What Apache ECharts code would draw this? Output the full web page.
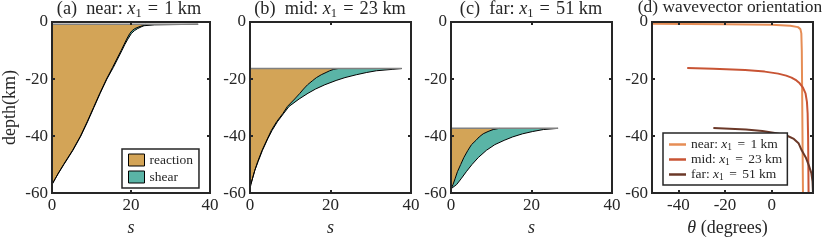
<!DOCTYPE html>
<html><head><meta charset="utf-8">
<script src="https://cdn.jsdelivr.net/npm/echarts@6/dist/echarts.min.js"></script>
<style>html,body{margin:0;padding:0;background:#fff}#c{width:830px;height:242px}</style>
</head><body><div id="c"></div>
<script>
// ---------- data ----------
const sTicks = [0, 20, 40];
const depthTicks = [0, -20, -40, -60];
const thetaTicks = [-40, -20, 0];

// panel (a) near
const depthA = [-0.8, -1.0, -1.3, -1.7, -2.3, -3, -4, -6, -8, -10, -13, -16, -20, -25, -30, -35, -40, -45, -50, -53, -55, -57];
const reactA = [23.6, 23.4, 22.9, 22.0, 21.0, 20.3, 19.7, 18.9, 18.2, 17.5, 16.4, 15.3, 13.8, 12.1, 10.5, 8.9, 7.2, 5.2, 2.9, 1.6, 0.8, 0];
const shearA = [13.4, 2.6, 0.4, 0.6, 0.7, 0.6, 0.4, 0.3, 0.2, 0.2, 0.2, 0.2, 0.1, 0.1, 0.1, 0.1, 0.1, 0.1, 0.1, 0.05, 0, 0];

// panel (b) mid
const depthB = [-16.3, -16.6, -17.1, -17.7, -18.5, -19.5, -20.5, -22, -23.5, -25, -27, -29.6, -32, -35, -38, -41, -45, -49, -52, -55, -57, -58.5];
const reactB = [22.0, 20.8, 19.8, 18.9, 17.7, 16.5, 15.6, 14.3, 13.3, 12.4, 11.1, 9.3, 8.2, 6.6, 5.3, 4.3, 3.0, 1.9, 1.2, 0.6, 0.2, 0];
const shearB = [15.7, 14.7, 11.6, 10.1, 8.7, 7.1, 5.8, 4.3, 3.0, 2.0, 1.1, 0.4, 0.2, 0.2, 0.2, 0.1, 0.1, 0.1, 0, 0, 0, 0];

// panel (c) far
const depthC = [-37.3, -37.7, -38.4, -39.2, -40.3, -41.5, -43, -45, -47.5, -50, -52.5, -55, -57, -58.5];
const reactC = [12.0, 10.5, 9.2, 8.0, 7.0, 6.2, 5.1, 4.2, 3.2, 2.4, 1.6, 1.0, 0.5, 0];
const shearC = [14.6, 12.5, 11.1, 9.8, 8.3, 7.0, 5.8, 4.6, 3.6, 2.8, 2.2, 1.5, 0.9, 0];

// panel (d) wavevector orientation
const depthNear = [-0.6, -0.8, -1.0, -1.3, -1.8, -2.5, -4, -10, -20, -30, -40, -50, -60];
const thetaNear = [-51.3, -20, 0, 8, 11.3, 12.3, 12.7, 12.9, 13.0, 13.1, 13.2, 13.3, 13.4];
const depthMid = [-16.1, -16.4, -16.8, -17.4, -18.1, -18.8, -19.5, -20.5, -21.5, -23, -25, -28, -32, -40, -50, -60];
const thetaMid = [-36.2, -25, -11.4, -3, 2.8, 6.2, 8.5, 10.6, 12.0, 13.4, 14.5, 15.1, 15.4, 15.6, 15.7, 15.8];
const depthFar = [-37.2, -37.4, -37.7, -38.2, -39, -39.8, -41, -42.5, -44.9, -47.5, -50, -53, -56, -60];
const thetaFar = [-25.0, -18, -11, -4, 2, 6.4, 9.5, 11.5, 12.8, 14.6, 15.8, 17.0, 17.5, 17.7];

// ---------- style ----------
const FONT = 'Liberation Serif';
const INK = '#262626';
const TAN = '#D3A457';
const TEAL = '#5AB4A6';
const C_NEAR = '#E68D55', C_MID = '#C85434', C_FAR = '#6B3828';
const FS_TICK = 17, FS_TITLE = 18.3, FS_NAME = 18, FS_LEG = 13.5;

const lefts = [49, 250, 451, 652];
const grid = lefts.map(l => ({left: l, top: 22, width: 161, height: 176}));

const rich = {
  i: {fontFamily: FONT, fontStyle: 'italic', fontSize: FS_TITLE, color: INK},
  s: {fontFamily: FONT, fontSize: 12.5, color: INK, padding: [8, 0, 0, 0]},
  e: {fontFamily: FONT, fontSize: FS_TITLE, color: INK, padding: [0, 1.5, 0, 1.5]},
  i2: {fontFamily: FONT, fontStyle: 'italic', fontSize: FS_LEG, color: INK, lineHeight: 15},
  s2: {fontFamily: FONT, fontSize: 9.5, color: INK, padding: [5, 0, 0, 0], lineHeight: 15},
  e2: {fontFamily: FONT, fontSize: FS_LEG, color: INK, padding: [0, 2, 0, 2], lineHeight: 15}
};

function lineAxis(pos, gi, min, max, opts, showLabel) {
  const ax = {
    type: 'value', gridIndex: gi, position: pos, min, max, z: 10,
    splitLine: {show: false},
    axisLine: {show: true, onZero: false, lineStyle: {color: INK, width: 2, cap: 'square'}},
    axisTick: {show: true, inside: true, length: 3, lineStyle: {color: INK, width: 2}},
    axisLabel: {show: showLabel, color: INK, fontFamily: FONT, fontSize: FS_TICK, margin: 4}
  };
  Object.assign(ax, opts);
  return ax;
}

const xAxis = [], yAxis = [];
for (let g = 0; g < 4; g++) {
  if (g < 3) {
    const xo = {interval: 20};
    xAxis.push(lineAxis('bottom', g, sTicks[0], sTicks[sTicks.length - 1], Object.assign({
      name: 's', nameLocation: 'middle', nameGap: 22,
      nameTextStyle: {fontFamily: FONT, fontStyle: 'italic', fontSize: FS_NAME, color: INK}
    }, xo), true));
    xAxis.push(lineAxis('top', g, sTicks[0], sTicks[sTicks.length - 1], xo, false));
  } else {
    const xo = {axisTick: {show: true, inside: true, length: 3, customValues: thetaTicks, lineStyle: {color: INK, width: 2}}};
    const lab = {show: true, color: INK, fontFamily: FONT, fontSize: FS_TICK, margin: 4, customValues: thetaTicks};
    xAxis.push(lineAxis('bottom', g, -51.3, 17.7, Object.assign({
      name: '{i|θ} (degrees)', nameLocation: 'middle', nameGap: 22,
      nameTextStyle: {fontFamily: FONT, fontSize: FS_NAME, color: INK, padding: [0, 10, 0, 0], rich: {i: {fontFamily: FONT, fontStyle: 'italic', fontSize: FS_NAME, color: INK}}},
      axisLabel: lab
    }, xo), true));
    xAxis.push(lineAxis('top', g, -51.3, 17.7, xo, false));
  }
  const yo = {interval: 20};
  const yl = Object.assign({}, yo);
  if (g === 0) Object.assign(yl, {
    name: 'depth(km)', nameLocation: 'middle', nameGap: 33, nameRotate: 90,
    nameTextStyle: {fontFamily: FONT, fontSize: FS_NAME, color: INK}
  });
  yAxis.push(lineAxis('left', g, depthTicks[depthTicks.length - 1], depthTicks[0], yl, true));
  yAxis.push(lineAxis('right', g, depthTicks[depthTicks.length - 1], depthTicks[0], yo, false));
}

function polySeries(name, color, pts, gi) {
  return {
    type: 'custom', name, xAxisIndex: 2 * gi, yAxisIndex: 2 * gi, data: [[0, 0]], z: 2, silent: true,
    itemStyle: {color},
    renderItem: (params, api) => ({
      type: 'polygon',
      shape: {points: pts.map(p => api.coord(p))},
      style: {fill: color, stroke: null}
    })
  };
}
function lineSeries(name, color, width, pts, gi, z) {
  return {
    type: 'line', name, xAxisIndex: 2 * gi, yAxisIndex: 2 * gi, data: pts, z: z || 3,
    symbol: 'none', showSymbol: false, silent: true, animation: false,
    lineStyle: {color, width}, itemStyle: {color}
  };
}

const series = [];
[[depthA, reactA, shearA], [depthB, reactB, shearB], [depthC, reactC, shearC]].forEach(([dep, re, sh], gi) => {
  const react = dep.map((d, i) => [re[i], d]);
  const total = dep.map((d, i) => [re[i] + sh[i], d]);
  const top = dep[0], bot = dep[dep.length - 1];
  const reactPoly = [[0, top]].concat(react, [[0, bot]]);
  const shearPoly = total.concat(react.slice().reverse());
  series.push(polySeries('reaction', TAN, reactPoly, gi));
  series.push(polySeries('shear', TEAL, shearPoly, gi));
  series.push(lineSeries('', '#000', 1, react, gi, 4));
  series.push(lineSeries('', '#000', 1, total, gi, 4));
  series.push(lineSeries('', '#808080', 1.5, [[0, top], [total[0][0], top]], gi, 5));
});
series.push(lineSeries('near', C_NEAR, 2, depthNear.map((d, i) => [thetaNear[i], d]), 3));
series.push(lineSeries('mid', C_MID, 2, depthMid.map((d, i) => [thetaMid[i], d]), 3));
series.push(lineSeries('far', C_FAR, 2, depthFar.map((d, i) => [thetaFar[i], d]), 3));

const titles = [
  '(a)  near: {i|x}{s|1} {e|=} 1 km',
  '(b)  mid: {i|x}{s|1} {e|=} 23 km',
  '(c)  far: {i|x}{s|1} {e|=} 51 km',
  '(d) wavevector orientation'
];
const title = titles.map((t, k) => ({
  text: t, left: lefts[k] + (k === 3 ? 78 : 80), top: -1, textAlign: 'center', padding: 0,
  textStyle: {fontFamily: FONT, fontSize: k === 3 ? 17.4 : FS_TITLE, fontWeight: 'normal', color: INK, rich}
}));

const legendLabels = {
  near: 'near: {i2|x}{s2|1} {e2|=} 1 km',
  mid: 'mid: {i2|x}{s2|1} {e2|=} 23 km',
  far: 'far: {i2|x}{s2|1} {e2|=} 51 km'
};

const legend = [
  {
    data: [
      {name: 'reaction', icon: 'rect', itemStyle: {color: TAN, borderColor: '#000', borderWidth: 1}},
      {name: 'shear', icon: 'rect', itemStyle: {color: TEAL, borderColor: '#000', borderWidth: 1}}
    ],
    left: 122, top: 149, orient: 'vertical', itemWidth: 16, itemHeight: 12, itemGap: 3,
    padding: [4, 6, 4, 6], borderColor: INK, borderWidth: 1.5, backgroundColor: '#fff',
    selectedMode: false, textStyle: {fontFamily: FONT, fontSize: FS_LEG, color: INK}
  },
  {
    data: [
      {name: 'near', icon: 'rect', itemStyle: {color: C_NEAR}},
      {name: 'mid', icon: 'rect', itemStyle: {color: C_MID}},
      {name: 'far', icon: 'rect', itemStyle: {color: C_FAR}}
    ],
    left: 663, top: 133, orient: 'vertical', itemWidth: 17, itemHeight: 2.5, itemGap: 0,
    padding: [4, 5, 3, 6], borderColor: INK, borderWidth: 1.5, backgroundColor: '#fff',
    selectedMode: false, formatter: n => legendLabels[n],
    textStyle: {fontFamily: FONT, fontSize: FS_LEG, color: INK, lineHeight: 15, rich}
  }
];

const chart = echarts.init(document.getElementById('c'), null, {renderer: 'canvas'});
chart.setOption({animation: false, backgroundColor: '#fff', title, legend, grid, xAxis, yAxis, series});
</script>
</body></html>
